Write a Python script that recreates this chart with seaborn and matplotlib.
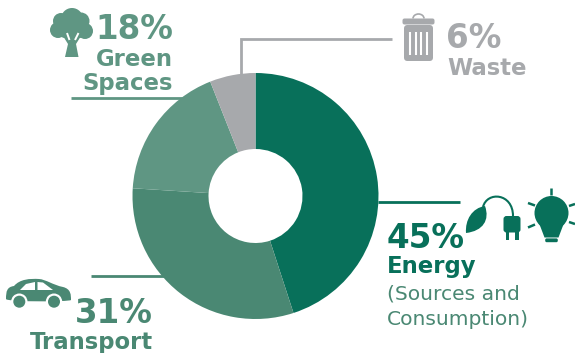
import matplotlib
matplotlib.use("Agg")
import matplotlib.pyplot as plt
import seaborn as sns
from matplotlib.patches import Circle, Polygon, PathPatch, FancyBboxPatch, Arc
from matplotlib.path import Path

sns.set_theme(style="white")
plt.rcParams["font.family"] = ["DejaVu Sans"]

# Emissions shares, clockwise from the top
categories = ["Energy", "Transport", "Green Spaces", "Waste"]
shares = [45, 31, 18, 6]
percent_labels = ["45%", "31%", "18%", "6%"]
palette = sns.color_palette(["#08705a", "#4a8873", "#5f9683", "#a7a9ac"])
ENERGY, TRANSPORT, GREEN, WASTE = palette

W, H = 575, 353
fig = plt.figure(figsize=(W / 100, H / 100), dpi=100, facecolor="white")

# Donut axes sit on a square of 246 px centred on the ring
cx, cy, radius = 255.5, 196.0, 123.0
pie_ax = fig.add_axes([(cx - radius) / W, 1 - (cy + radius) / H, 2 * radius / W, 2 * radius / H])
pie_ax.pie(shares, colors=palette, startangle=90, counterclock=False, radius=1.0,
           wedgeprops=dict(width=1 - 47 / 123, linewidth=0))
pie_ax.set_xlim(-1, 1)
pie_ax.set_ylim(-1, 1)

# Overlay in pixel units (y pointing down) for leaders, icons and labels
ax = fig.add_axes([0, 0, 1, 1], zorder=3)
ax.set_xlim(0, W)
ax.set_ylim(H, 0)
ax.axis("off")
ax.patch.set_alpha(0)


def label(x, y, text, color, size, weight="bold", ha="left"):
    ax.text(x, y, text, color=color, fontsize=size, fontweight=weight, ha=ha, va="baseline")


def leader(xs, ys, color, lw=2.0):
    ax.plot(xs, ys, color=color, lw=lw, solid_capstyle="butt", solid_joinstyle="miter")


def stroke(xs, ys, color, lw=1.6, cap="butt"):
    ax.plot(xs, ys, color=color, lw=lw, solid_capstyle=cap)


# Leaders
leader([378, 460], [202, 202], ENERGY)
leader([91, 170], [276, 276], TRANSPORT)
leader([71, 186], [97.5, 97.5], GREEN)
leader([240.5, 240.5, 392], [75, 38.5, 38.5], WASTE)

# Labels
label(387, 248, percent_labels[0], ENERGY, 23.5)
label(387, 273, categories[0], ENERGY, 16.4)
label(387, 299, "(Sources and", TRANSPORT, 14.6, weight="normal")
label(387, 325, "Consumption)", TRANSPORT, 14.6, weight="normal")

label(153, 323, percent_labels[1], TRANSPORT, 23.5, ha="right")
label(153, 349, categories[1], TRANSPORT, 16.4, ha="right")

label(173, 39, percent_labels[2], GREEN, 23.5, ha="right")
label(173, 66, "Green", GREEN, 16.4, ha="right")
label(173, 90, "Spaces", GREEN, 16.4, ha="right")

label(446, 48, percent_labels[3], WASTE, 23.5)
label(447, 75, categories[3], WASTE, 16.4)

# Tree icon
for (x, y, r) in [(72, 19, 11), (61, 21, 8), (58, 30, 8), (85, 31, 8), (81, 21, 8.5), (72, 26, 12), (65, 31, 7), (79, 31, 7)]:
    ax.add_patch(Circle((x, y), r, fc=GREEN, ec="none"))
ax.add_patch(Polygon([(65, 57), (68, 44), (63, 36), (81, 36), (76, 44), (78.5, 57)], fc=GREEN, ec="none"))
stroke([67, 69.5], [33, 40], "white", 1.4)
stroke([78.5, 75], [33, 40], "white", 1.4)

# Leaf and plug icon
leaf = Path([(466, 233), (465, 220), (472, 208), (485, 206), (490, 220), (483, 231), (466, 233)],
            [Path.MOVETO, Path.CURVE4, Path.CURVE4, Path.CURVE4, Path.CURVE4, Path.CURVE4, Path.CURVE4])
ax.add_patch(PathPatch(leaf, fc=ENERGY, ec="none"))
wire = Path([(483, 207), (487, 191), (513, 193), (513, 216)],
            [Path.MOVETO, Path.CURVE4, Path.CURVE4, Path.CURVE4])
ax.add_patch(PathPatch(wire, fc="none", ec=ENERGY, lw=1.5))
ax.add_patch(FancyBboxPatch((505, 217.5), 14, 13.5, boxstyle="round,pad=1.5,rounding_size=3", fc=ENERGY, ec="none"))
ax.add_patch(Polygon([(505.5, 231), (509, 231), (509, 239.5), (505.5, 239.5)], fc=ENERGY, ec="none"))
ax.add_patch(Polygon([(515, 231), (518.5, 231), (518.5, 239.5), (515, 239.5)], fc=ENERGY, ec="none"))

# Light bulb icon
ax.add_patch(Circle((551.5, 213), 17, fc=ENERGY, ec="none"))
ax.add_patch(Polygon([(539, 223), (564, 223), (558.5, 237.5), (544.5, 237.5)], fc=ENERGY, ec="none"))
ax.add_patch(FancyBboxPatch((546, 239.2), 11, 2.2, boxstyle="round,pad=0.8,rounding_size=1.5", fc=ENERGY, ec="none"))
for xs, ys in [([550.5, 550.5], [188, 195]), ([528, 535], [203, 205.5]), ([528, 535], [227.5, 224.5]),
               ([569, 575], [206, 204]), ([569, 575], [222, 224])]:
    stroke(xs, ys, ENERGY, 1.8)

# Car icon
body = Path([(6, 299), (6, 291), (7, 287), (14, 286), (20, 279), (30, 278.5), (39, 279), (46, 279.5), (53, 285),
             (63, 287), (71, 289), (71, 295), (71, 300), (69, 302), (6, 302), (6, 299)],
            [Path.MOVETO, Path.CURVE4, Path.CURVE4, Path.CURVE4, Path.CURVE4, Path.CURVE4, Path.CURVE4, Path.CURVE4,
             Path.CURVE4, Path.CURVE4, Path.CURVE4, Path.CURVE4, Path.CURVE4, Path.CURVE4, Path.LINETO, Path.CLOSEPOLY])
ax.add_patch(PathPatch(body, fc=TRANSPORT, ec="none"))
ax.add_patch(Polygon([(20, 290), (26, 284), (35, 282), (35, 290)], fc="white", ec="none"))
ax.add_patch(Polygon([(37.5, 282), (43, 282.5), (53, 290), (37.5, 290)], fc="white", ec="none"))
for x in (19.3, 54):
    ax.add_patch(Circle((x, 301.7), 8.2, fc="white", ec="none"))
    ax.add_patch(Circle((x, 301.7), 6, fc=TRANSPORT, ec="none"))

# Waste bin icon
ax.add_patch(Arc((418.5, 18.5), 11, 9, theta1=180, theta2=360, ec=WASTE, lw=1.2))
ax.add_patch(FancyBboxPatch((403.5, 19.5), 30, 4, boxstyle="round,pad=1,rounding_size=2", fc=WASTE, ec="none"))
ax.add_patch(FancyBboxPatch((406, 27), 25, 32, boxstyle="round,pad=2,rounding_size=3.5", fc=WASTE, ec="none"))
for x in (409.5, 415.5, 421, 427):
    stroke([x, x], [32, 55], "white", 1.5)

fig.savefig("out.png", dpi=100, facecolor="white")
